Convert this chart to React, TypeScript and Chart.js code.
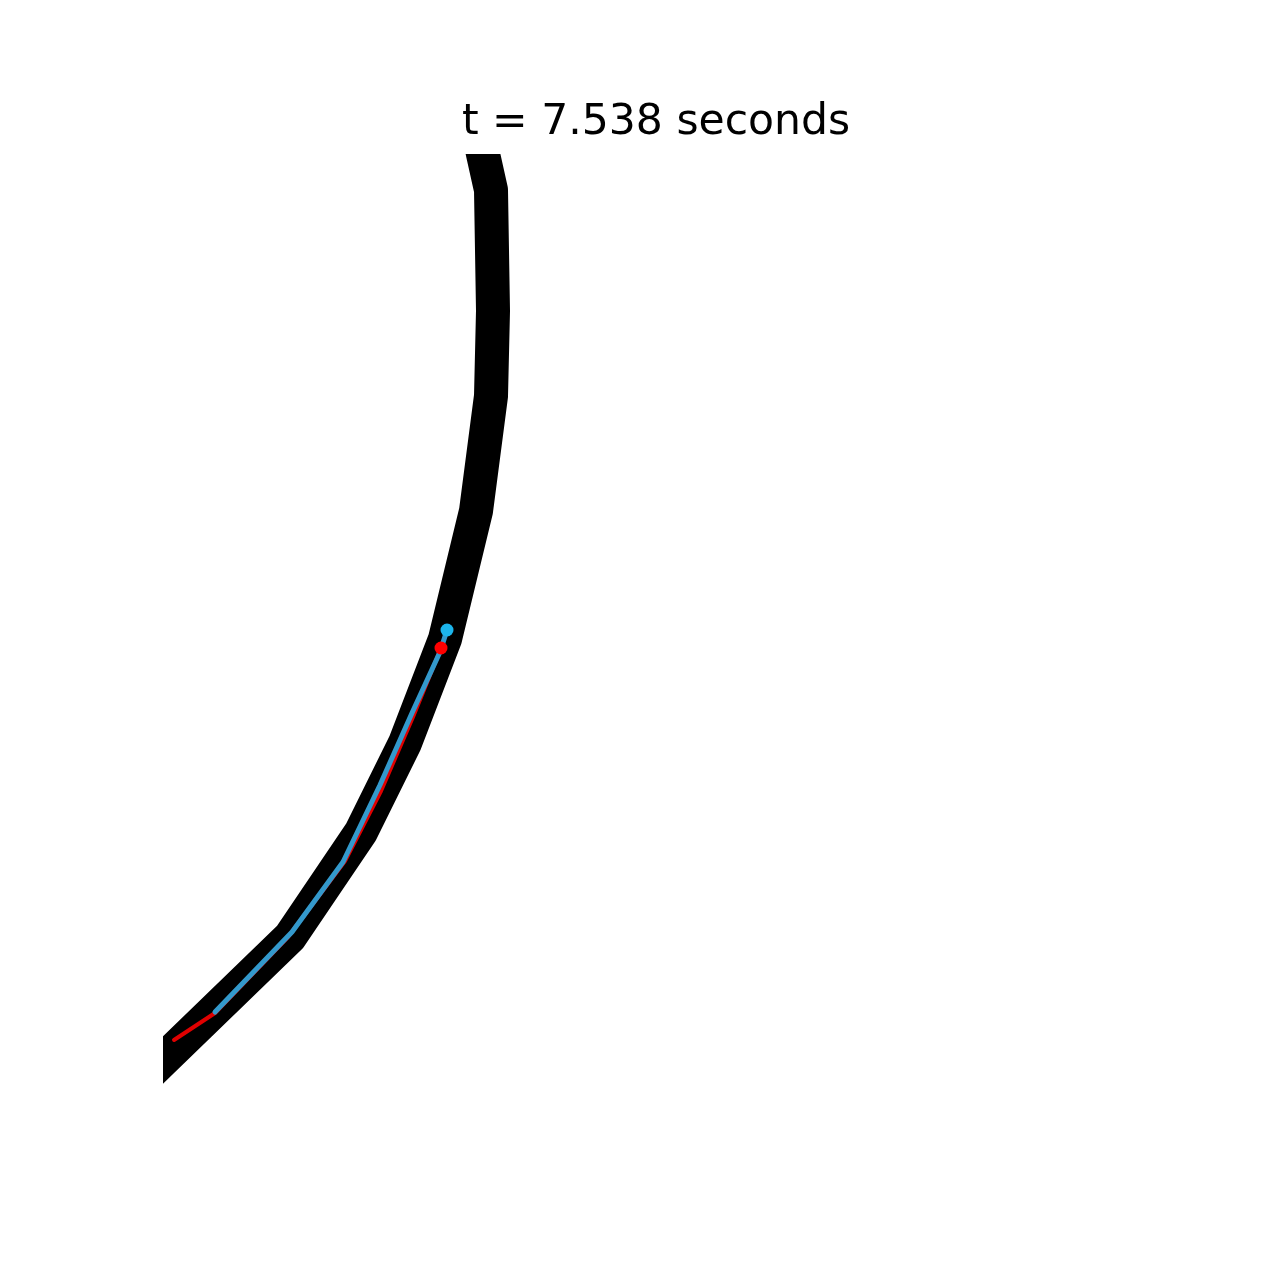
import React, { useEffect, useRef } from "react";
import { Chart, registerables } from "chart.js";

Chart.register(...registerables);

const titleText = "t = 7.538 seconds";

// track centerline (x, y) — y grows downward
const trackX = [476, 483, 491, 493, 491, 476, 445, 405, 361, 290, 163, 100];
const trackY = [120, 154, 190, 311, 396, 511, 639, 743, 832, 937, 1060, 1121];

// reference path (red)
const refX = [174, 215, 288, 345, 381, 413, 441];
const refY = [1040, 1013, 937, 861, 791, 717, 648];

// driven path (blue)
const pathX = [215, 292, 343, 380, 412, 440, 447];
const pathY = [1012, 932, 862, 785, 713, 652, 630];

// current positions
const refPoint = { x: 441, y: 648 };
const carPoint = { x: 447, y: 630 };

const toPts = (xs: number[], ys: number[]) => xs.map((x, i) => ({ x, y: ys[i] }));

const titlePlugin = {
  id: "figTitle",
  afterDraw(chart: any) {
    const ctx = chart.ctx;
    ctx.save();
    ctx.font = '42.5px "DejaVu Sans"';
    ctx.fillStyle = "#000";
    ctx.textAlign = "center";
    ctx.textBaseline = "alphabetic";
    ctx.fillText(titleText, 656, 134);
    ctx.restore();
  },
};

export default function App() {
  const ref = useRef<HTMLCanvasElement>(null);
  useEffect(() => {
    if (!ref.current) return;
    const chart = new Chart(ref.current, {
      type: "scatter",
      data: {
        datasets: [
          {
            type: "line",
            data: toPts(trackX, trackY),
            borderColor: "#000000",
            borderWidth: 34,
            pointRadius: 0,
            showLine: true,
            fill: false,
            tension: 0,
            borderJoinStyle: "round",
            clip: 0,
            order: 5,
          } as any,
          {
            type: "line",
            data: toPts(refX, refY),
            borderColor: "#e00000",
            borderWidth: 4,
            pointRadius: 0,
            showLine: true,
            fill: false,
            tension: 0,
            borderJoinStyle: "round",
            borderCapStyle: "round",
            clip: 0,
            order: 4,
          } as any,
          {
            type: "line",
            data: toPts(pathX, pathY),
            borderColor: "#3399cc",
            borderWidth: 5,
            pointRadius: 0,
            showLine: true,
            fill: false,
            tension: 0,
            borderJoinStyle: "round",
            borderCapStyle: "round",
            clip: 0,
            order: 3,
          } as any,
          {
            data: [refPoint],
            backgroundColor: "#ff0000",
            borderWidth: 0,
            pointRadius: 6.5,
            order: 2,
          },
          {
            data: [carPoint],
            backgroundColor: "#1cb5ec",
            borderWidth: 0,
            pointRadius: 6.5,
            order: 1,
          },
        ],
      },
      options: {
        animation: false,
        responsive: false,
        maintainAspectRatio: false,
        layout: { padding: { left: 163, right: 128, top: 154, bottom: 141 } },
        plugins: { legend: { display: false }, tooltip: { enabled: false }, title: { display: false } },
        scales: {
          x: { type: "linear", min: 163, max: 1152, display: false },
          y: { type: "linear", min: 154, max: 1139, reverse: true, display: false },
        },
      },
      plugins: [titlePlugin],
    });
    return () => chart.destroy();
  }, []);
  return (
    <div style={{ position: "fixed", left: 0, top: 0, width: 1280, height: 1280, background: "#fff" }}>
      <canvas ref={ref} width={1280} height={1280} style={{ width: 1280, height: 1280 }} />
    </div>
  );
}
